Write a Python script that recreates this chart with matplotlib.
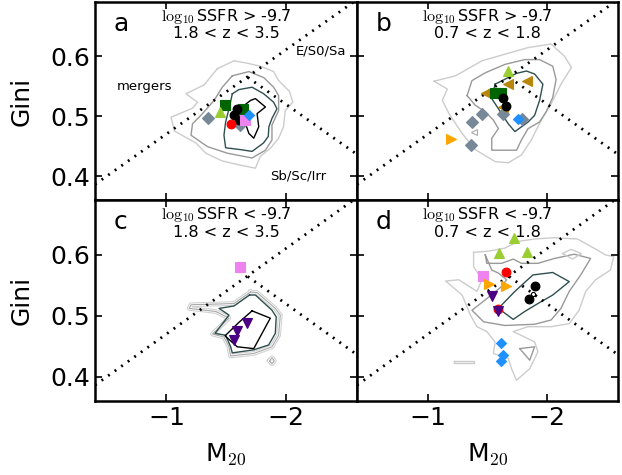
"""Gini vs M20 for high / low SSFR galaxies in two redshift bins"""
import numpy as np
import matplotlib
matplotlib.use('Agg')
import matplotlib.pyplot as plt

plt.rcParams['font.family'] = ['DejaVu Sans']
plt.rcParams['mathtext.fontset'] = 'cm'

XLIM = (-0.4, -2.6)
YLIM = (0.36, 0.69)
XTICKS = [-1, -2]
YTICKS = [0.4, 0.5, 0.6]

# Lotz+08 boundaries, G = slope * M20 + icpt
MERGER_LINE = (-0.14, 0.33)
HUBBLE_LINE = (0.14, 0.80)

panel_tags = ['a', 'b', 'c', 'd']
ssfr_labels = [r'$\log_{10}$SSFR > -9.7', r'$\log_{10}$SSFR > -9.7',
               r'$\log_{10}$SSFR < -9.7', r'$\log_{10}$SSFR < -9.7']
z_labels = ['1.8 < z < 3.5', '0.7 < z < 1.8', '1.8 < z < 3.5', '0.7 < z < 1.8']

# ---- density contours of the parent sample, (M20, Gini) vertices ----
a_outer = [(-1.428, 0.579), (-1.567, 0.592), (-1.678, 0.588), (-1.789, 0.583), (-1.900, 0.574),
           (-1.942, 0.559), (-2.033, 0.541), (-2.061, 0.523), (-1.997, 0.509), (-1.983, 0.482),
           (-1.942, 0.463), (-1.872, 0.446), (-1.789, 0.433), (-1.747, 0.413), (-1.622, 0.418),
           (-1.469, 0.425), (-1.331, 0.438), (-1.247, 0.455), (-1.067, 0.475), (-1.039, 0.498),
           (-1.219, 0.513), (-1.261, 0.523), (-1.164, 0.537), (-1.317, 0.552)]
a_mid = [(-1.553, 0.567), (-1.692, 0.574), (-1.817, 0.564), (-1.900, 0.548), (-1.942, 0.534),
         (-1.942, 0.509), (-1.886, 0.485), (-1.886, 0.460), (-1.831, 0.443), (-1.719, 0.430),
         (-1.511, 0.438), (-1.344, 0.449), (-1.206, 0.468), (-1.219, 0.487), (-1.303, 0.504),
         (-1.400, 0.526), (-1.469, 0.548)]
a_slate = [(-1.553, 0.537), (-1.608, 0.544), (-1.719, 0.548), (-1.817, 0.537), (-1.900, 0.523),
           (-1.928, 0.512), (-1.886, 0.496), (-1.860, 0.482), (-1.855, 0.466), (-1.815, 0.455),
           (-1.719, 0.441), (-1.622, 0.444), (-1.497, 0.447), (-1.483, 0.468), (-1.497, 0.490),
           (-1.525, 0.512)]
a_inner = [(-1.636, 0.515), (-1.706, 0.526), (-1.747, 0.529), (-1.831, 0.515), (-1.761, 0.504),
           (-1.775, 0.482), (-1.733, 0.463), (-1.692, 0.471), (-1.664, 0.487), (-1.650, 0.504)]

b_outer = [(-1.050, 0.558), (-1.231, 0.567), (-1.453, 0.592), (-1.647, 0.603), (-1.842, 0.614),
           (-2.036, 0.620), (-2.147, 0.600), (-2.208, 0.581), (-2.119, 0.553), (-2.036, 0.520),
           (-1.953, 0.493), (-1.869, 0.460), (-1.786, 0.435), (-1.675, 0.422), (-1.564, 0.424),
           (-1.397, 0.444), (-1.286, 0.471), (-1.175, 0.504), (-1.119, 0.526), (-1.161, 0.545)]
b_mid = [(-1.328, 0.534), (-1.369, 0.559), (-1.481, 0.572), (-1.647, 0.586), (-1.814, 0.594),
         (-1.939, 0.594), (-2.050, 0.583), (-2.078, 0.561), (-2.050, 0.531), (-1.994, 0.507),
         (-1.939, 0.490), (-1.842, 0.479), (-1.786, 0.460), (-1.745, 0.443), (-1.536, 0.443),
         (-1.536, 0.463), (-1.592, 0.479), (-1.550, 0.493), (-1.481, 0.507), (-1.397, 0.518)]
b_slate = [(-1.564, 0.553), (-1.744, 0.571), (-1.828, 0.575), (-1.897, 0.570), (-1.967, 0.553),
           (-1.939, 0.526), (-1.897, 0.501), (-1.842, 0.490), (-1.731, 0.474), (-1.675, 0.487),
           (-1.619, 0.504), (-1.536, 0.529)]

c_outer = [(-1.706, 0.539), (-1.567, 0.520), (-1.206, 0.518), (-1.192, 0.512), (-1.414, 0.507),
           (-1.525, 0.496), (-1.386, 0.470), (-1.483, 0.465), (-1.525, 0.449), (-1.539, 0.434),
           (-1.733, 0.438), (-1.886, 0.449), (-1.942, 0.468), (-1.956, 0.501), (-1.914, 0.512),
           (-1.761, 0.538)]
c_slate = [(-1.697, 0.534), (-1.567, 0.516), (-1.442, 0.512), (-1.525, 0.501), (-1.408, 0.471),
           (-1.497, 0.468), (-1.539, 0.449), (-1.553, 0.439), (-1.733, 0.444), (-1.858, 0.452),
           (-1.914, 0.471), (-1.922, 0.498), (-1.886, 0.509), (-1.747, 0.534)]
c_inner = [(-1.719, 0.508), (-1.872, 0.496), (-1.733, 0.446), (-1.594, 0.449), (-1.492, 0.467),
           (-1.608, 0.489)]
c_blip = [(-1.866, 0.426), (-1.886, 0.431), (-1.906, 0.426), (-1.886, 0.421)]

d_outer = [(-1.383, 0.604), (-1.508, 0.606), (-1.647, 0.611), (-1.758, 0.622), (-1.897, 0.626),
           (-2.064, 0.628), (-2.258, 0.626), (-2.397, 0.611), (-2.494, 0.600), (-2.564, 0.597),
           (-2.536, 0.575), (-2.411, 0.559), (-2.328, 0.540), (-2.272, 0.509), (-2.189, 0.487),
           (-2.036, 0.482), (-1.842, 0.482), (-1.717, 0.474), (-1.897, 0.457), (-1.925, 0.441),
           (-1.856, 0.413), (-1.744, 0.394), (-1.703, 0.413), (-1.675, 0.430), (-1.550, 0.438),
           (-1.564, 0.457), (-1.494, 0.474), (-1.411, 0.482), (-1.356, 0.501), (-1.286, 0.534),
           (-1.147, 0.557), (-1.258, 0.559), (-1.411, 0.540), (-1.453, 0.559), (-1.383, 0.581)]
d_mid = [(-1.481, 0.600), (-1.494, 0.586), (-1.619, 0.586), (-1.717, 0.593), (-1.786, 0.586),
         (-1.925, 0.586), (-2.064, 0.594), (-2.231, 0.601), (-2.369, 0.594), (-2.286, 0.567),
         (-2.189, 0.540), (-2.119, 0.512), (-2.036, 0.493), (-1.897, 0.486), (-1.647, 0.484),
         (-1.467, 0.490), (-1.369, 0.509), (-1.481, 0.526), (-1.619, 0.548), (-1.661, 0.559),
         (-1.592, 0.570), (-1.536, 0.575)]
d_slate = [(-1.592, 0.512), (-1.731, 0.540), (-1.883, 0.567), (-2.050, 0.571), (-2.189, 0.556),
           (-2.050, 0.534), (-1.925, 0.520), (-1.814, 0.507), (-1.717, 0.494)]
d_diamond = [(-2.133, 0.602), (-2.203, 0.609), (-2.292, 0.602), (-2.217, 0.593)]
d_tri = [(-1.772, 0.446), (-1.897, 0.449), (-1.856, 0.427)]
d_bar = [(-1.217, 0.4255), (-1.383, 0.4255), (-1.383, 0.4225), (-1.217, 0.4225)]

# level index -> colour (outermost to innermost); level 4 = tight double ring
LEVEL_COLORS = ['#cccccc', '#999999', '#2f4f4f', 'black']

contours = {
    'a': [(0, a_outer), (1, a_mid), (2, a_slate), (3, a_inner)],
    'b': [(0, b_outer), (1, b_mid), (2, b_slate)],
    'c': [(4, c_outer), (2, c_slate), (3, c_inner), (4, c_blip)],
    'd': [(0, d_outer), (1, d_mid), (2, d_slate), (0, d_diamond), (1, d_tri), (0, d_bar)],
}

# ---- individual objects, (M20 list, Gini list) per group ----
points = {
    'a': {
        'grey_D': ([-1.35, -1.62], [0.496, 0.485]),
        'dkgreen_s': ([-1.49, -1.64], [0.518, 0.511]),
        'black_o': ([-1.59, -1.57, -1.61], [0.511, 0.501, 0.493]),
        'violet_s': ([-1.66], [0.493]),
        'blue_D': ([-1.69], [0.501]),
        'red_o': ([-1.54], [0.486]),
        'ygreen_^': ([-1.45], [0.507]),
    },
    'b': {
        'grey_D': ([-1.45, -1.37, -1.63, -1.79, -1.36], [0.503, 0.490, 0.503, 0.495, 0.452]),
        'gold_<': ([-1.836, -1.675, -1.486, -1.63], [0.559, 0.553, 0.539, 0.515]),
        'dkgreen_s': ([-1.56, -1.61], [0.538, 0.538]),
        'black_o': ([-1.63, -1.66], [0.530, 0.516]),
        'blue_D': ([-1.755], [0.495]),
        'orange_>': ([-1.19], [0.461]),
        'open_<': ([-1.39], [0.473]),
        'ygreen_^': ([-1.675], [0.575]),
    },
    'c': {
        'violet_s': ([-1.62], [0.580]),
        'indigo_v': ([-1.68, -1.59, -1.57], [0.488, 0.475, 0.460]),
    },
    'd': {
        'ygreen_^': ([-1.72, -1.60, -1.83], [0.627, 0.603, 0.604]),
        'red_o': ([-1.66, -1.59], [0.572, 0.511]),
        'violet_s': ([-1.46], [0.565]),
        'orange_>': ([-1.51, -1.66], [0.552, 0.548]),
        'indigo_v': ([-1.54, -1.59], [0.532, 0.507]),
        'black_o': ([-1.90, -1.85], [0.548, 0.527]),
        'open_o': ([-1.88], [0.535]),
        'blue_D': ([-1.61, -1.63, -1.615], [0.455, 0.435, 0.425]),
    },
}

MSTYLE = {
    'grey_D': dict(marker='D', color='lightslategray', ms=5.8),
    'dkgreen_s': dict(marker='s', color='darkgreen', ms=6.5),
    'black_o': dict(marker='o', color='black', ms=6.3),
    'violet_s': dict(marker='s', color='violet', ms=6.5),
    'blue_D': dict(marker='D', color='dodgerblue', ms=5.0),
    'red_o': dict(marker='o', color='red', ms=6.3),
    'ygreen_^': dict(marker='^', color='yellowgreen', ms=6.5),
    'gold_<': dict(marker='<', color='darkgoldenrod', ms=6.5),
    'orange_>': dict(marker='>', color='orange', ms=6.5),
    'indigo_v': dict(marker='v', color='indigo', ms=6.5),
    'open_<': dict(marker='<', color='#aaaaaa', ms=4, mfc='none'),
    'open_o': dict(marker='o', color='black', ms=3, mfc='none'),
}

fig = plt.figure(figsize=(6.22, 4.75), dpi=100)
x0, xm, x1 = 95 / 622, 357 / 622, 618 / 622
y1, ym, y0 = 1 - 2 / 475, 1 - 200 / 475, 1 - 401 / 475
boxes = [(x0, ym, xm - x0, y1 - ym), (xm, ym, x1 - xm, y1 - ym),
         (x0, y0, xm - x0, ym - y0), (xm, y0, x1 - xm, ym - y0)]

mm = np.linspace(XLIM[0], XLIM[1], 200)
for i, tag in enumerate(panel_tags):
    ax = fig.add_axes(boxes[i])

    for lev, poly in contours[tag]:
        xy = np.array(poly + [poly[0]])
        if lev == 4:
            # two nearly coincident levels: light ring around a grey one
            ax.plot(xy[:, 0], xy[:, 1], color='#d0d0d0', lw=3.4, zorder=1)
            ax.plot(xy[:, 0], xy[:, 1], color='white', lw=1.9, zorder=1)
            ax.plot(xy[:, 0], xy[:, 1], color='#a8a8a8', lw=0.8, zorder=1)
        else:
            ax.plot(xy[:, 0], xy[:, 1], color=LEVEL_COLORS[lev], lw=1.0, zorder=1)

    # merger line everywhere, E/S0/Sa vs Sb/Sc/Irr split below it
    g_merge = MERGER_LINE[0] * mm + MERGER_LINE[1]
    g_hub = HUBBLE_LINE[0] * mm + HUBBLE_LINE[1]
    m_cross = (HUBBLE_LINE[1] - MERGER_LINE[1]) / (MERGER_LINE[0] - HUBBLE_LINE[0])
    ax.plot(mm, g_merge, color='black', lw=2, ls=(0, (0.7, 2.2)), zorder=2)
    sel = mm <= m_cross
    ax.plot(mm[sel], g_hub[sel], color='black', lw=2, ls=(0, (0.7, 2.2)), zorder=2)

    for name, (mx, gy) in points[tag].items():
        st = dict(MSTYLE[name])
        col = st.pop('color')
        mfc = st.pop('mfc', col)
        ax.plot(mx, gy, ls='none', mfc=mfc, mec=col, mew=0.8, zorder=3, **st)

    ax.text(0.07, 0.855, tag, transform=ax.transAxes, fontsize=18)
    ax.text(0.5, 0.905, ssfr_labels[i], transform=ax.transAxes, fontsize=11.5, ha='center')
    ax.text(0.5, 0.818, z_labels[i], transform=ax.transAxes, fontsize=11.5, ha='center')
    if tag == 'a':
        ax.text(-0.583, 0.543, 'mergers', fontsize=9.5)
        ax.text(-2.083, 0.603, 'E/S0/Sa', fontsize=9.5)
        ax.text(-1.873, 0.394, 'Sb/Sc/Irr', fontsize=9.5)

    ax.set_xlim(*XLIM)
    ax.set_ylim(*YLIM)
    ax.set_xticks(XTICKS)
    ax.set_yticks(YTICKS)
    ax.tick_params(direction='in', length=5, width=1.2, top=True, right=True, labelsize=18)
    for sp in ax.spines.values():
        sp.set_linewidth(1.8)
    if i % 2 == 1:
        ax.tick_params(labelleft=False)
    else:
        ax.set_ylabel('Gini', fontsize=18)
        ax.yaxis.set_label_coords(-0.235, 0.5)
    if i < 2:
        ax.tick_params(labelbottom=False)
    else:
        ax.set_xlabel(r'M$_{20}$', fontsize=18)
        ax.xaxis.set_label_coords(0.5, -0.2)

fig.savefig('out.png', dpi=100, facecolor='white')
